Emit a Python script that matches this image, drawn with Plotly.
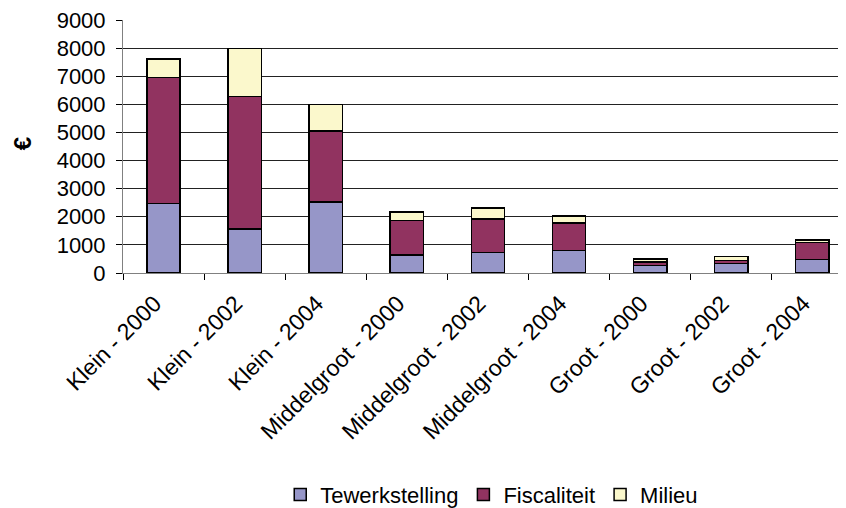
import plotly.graph_objects as go

categories = ["Klein - 2000", "Klein - 2002", "Klein - 2004",
              "Middelgroot - 2000", "Middelgroot - 2002", "Middelgroot - 2004",
              "Groot - 2000", "Groot - 2002", "Groot - 2004"]
tewerkstelling = [2470, 1570, 2530, 640, 730, 800, 270, 340, 480]
fiscaliteit = [4490, 4700, 2530, 1220, 1190, 970, 120, 110, 600]
milieu = [660, 1720, 930, 310, 400, 250, 100, 140, 100]
y_ticks = [0, 1000, 2000, 3000, 4000, 5000, 6000, 7000, 8000, 9000]

FONT = "Liberation Sans, Arial, sans-serif"
line = dict(color="black", width=1.5)

fig = go.Figure()
fig.add_trace(go.Bar(x=categories, y=tewerkstelling, name="Tewerkstelling",
                     marker=dict(color="#9696C8", line=line), width=0.41))
fig.add_trace(go.Bar(x=categories, y=fiscaliteit, name="Fiscaliteit",
                     marker=dict(color="#913360", line=line), width=0.41))
fig.add_trace(go.Bar(x=categories, y=milieu, name="Milieu",
                     marker=dict(color="#FBF8CC", line=line), width=0.41))

# page body has an 8px margin, so the figure is sized/offset to compensate
fig.update_layout(
    barmode="stack",
    width=838, height=500,
    margin=dict(l=115, r=0, t=12, b=235, autoexpand=False),
    paper_bgcolor="white", plot_bgcolor="white",
    font=dict(family=FONT, size=22, color="black"),
    showlegend=True,
    legend=dict(orientation="h", x=0.51, xanchor="center", y=-0.876, yanchor="middle",
                font=dict(size=22), traceorder="normal", itemwidth=30,
                tracegroupgap=0),
    xaxis=dict(range=[-0.5, 8.415], tickangle=-45, showline=True, linecolor="#808080",
               linewidth=1, ticks="outside", tickson="boundaries", ticklen=6,
               tickcolor="black", showgrid=False, tickfont=dict(size=23),
               automargin=False, ticklabelstandoff=7, ticklabelshift=-9,
               ticklabeloverflow="allow"),
    yaxis=dict(range=[0, 9000], tickvals=y_ticks, showline=True, linecolor="#808080",
               linewidth=1, ticks="outside", ticklen=6, tickcolor="black",
               showgrid=True, gridcolor="#222222", gridwidth=1, zeroline=False,
               tickfont=dict(size=22), automargin=False, ticklabelstandoff=6,
               ticklabeloverflow="allow"),
    annotations=[dict(text="<b>€</b>", xref="paper", yref="paper", x=-0.138, y=0.51,
                      textangle=-90, showarrow=False, font=dict(size=24),
                      xanchor="center", yanchor="middle")],
)

fig.write_html("out.html")
